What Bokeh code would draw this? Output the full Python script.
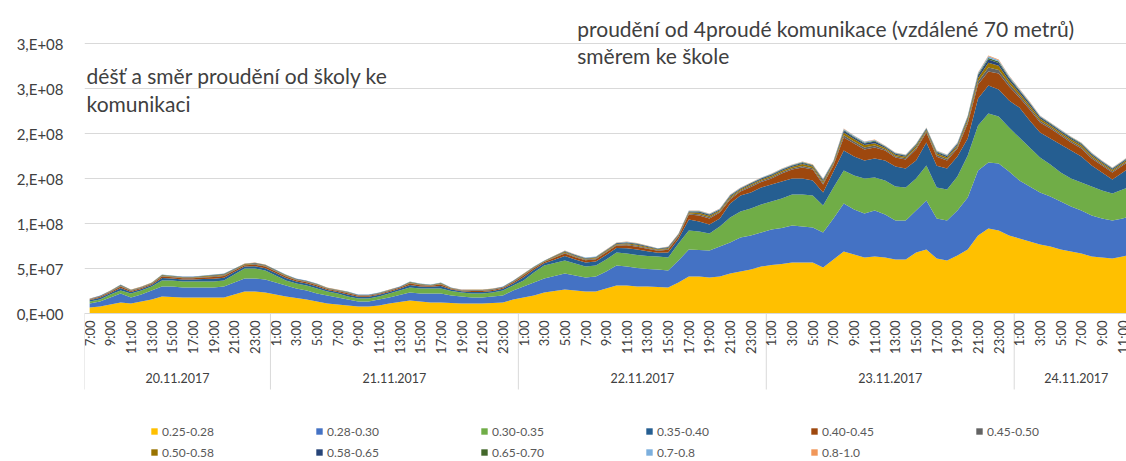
import math
from bokeh.plotting import figure
from bokeh.models import (ColumnDataSource, FixedTicker, Legend, LegendItem,
                          Range1d, Label, Span)
from bokeh.core.properties import value
from bokeh.embed import file_html
from bokeh.resources import INLINE

# ---------------- data ----------------
days = ["20.11.2017", "21.11.2017", "22.11.2017", "23.11.2017", "24.11.2017"]
day_sizes = [18, 24, 24, 24, 12]
hour_labels = ([f"{h}:00" for h in range(7, 24)] + ["0:00"]
               + ([f"{h}:00" for h in range(1, 24)] + ["0:00"]) * 3
               + [f"{h}:00" for h in range(1, 13)])

series_names = ["0.25-0.28", "0.28-0.30", "0.30-0.35", "0.35-0.40", "0.40-0.45",
                "0.45-0.50", "0.50-0.58", "0.58-0.65", "0.65-0.70", "0.7-0.8", "0.8-1.0"]
colors = ["#FFC000", "#4472C4", "#70AD47", "#255E91", "#9E480E",
          "#636363", "#997300", "#264478", "#43682B", "#7CAFDD", "#F1975A"]

y_ticks = [0, 5e7, 1e8, 1.5e8, 2e8, 2.5e8, 3e8]
y_tick_labels = ["0,E+00", "5,E+07", "1,E+08", "2,E+08", "2,E+08", "3,E+08", "3,E+08"]

# values in millions
s_025_028 = [6.7, 7.8, 10.0, 12.2, 11.1, 13.3, 15.6, 18.9, 18.3, 17.8, 17.8, 17.8, 17.8, 17.8, 21.1, 24.4, 24.4, 23.3,
             21.1, 18.9, 17.2, 15.6, 13.3, 11.1, 10.0, 8.9, 7.8, 7.8, 8.9, 11.1, 12.8, 14.4, 13.3, 12.2, 12.2, 11.7, 11.1, 11.1, 11.1, 11.7, 12.2, 15.6,
             17.8, 20.0, 23.3, 25.0, 26.7, 25.6, 24.4, 24.4, 27.8, 31.1, 31.1, 30.0, 30.0, 29.4, 28.9, 34.4, 41.1, 41.1, 40.0, 41.1, 44.4, 46.7, 48.9, 52.2,
             53.9, 55.0, 56.7, 56.7, 56.7, 51.1, 60.0, 68.9, 65.6, 62.2, 63.3, 62.2, 60.0, 60.0, 67.8, 71.1, 61.1, 58.9, 64.4, 71.1, 86.7, 94.4, 92.2, 86.7,
             83.3, 80.0, 76.7, 74.4, 71.1, 68.9, 66.7, 63.3, 62.2, 61.1, 63.3, 65.6]
s_028_030 = [4.4, 5.6, 7.8, 10.0, 6.7, 7.8, 10.0, 11.1, 11.7, 11.1, 11.1, 11.1, 11.1, 12.2, 13.3, 14.4, 14.4, 14.4,
             13.3, 12.2, 10.6, 10.0, 8.9, 8.9, 7.8, 6.7, 5.6, 5.6, 6.7, 6.7, 7.8, 8.9, 8.9, 10.0, 10.0, 8.3, 7.8, 6.7, 6.7, 7.2, 7.8, 10.0,
             12.2, 14.4, 15.6, 16.7, 17.8, 16.7, 15.6, 16.7, 18.9, 22.2, 21.1, 20.6, 19.4, 19.4, 18.9, 24.4, 30.0, 29.4, 30.0, 33.3, 34.4, 37.8, 37.8, 37.8,
             39.4, 40.0, 41.1, 40.0, 38.9, 38.9, 45.6, 53.3, 50.0, 48.9, 51.1, 47.8, 43.3, 43.3, 46.7, 54.4, 44.4, 44.4, 50.0, 57.8, 72.2, 73.3, 74.4, 71.1,
             64.4, 61.1, 57.8, 55.6, 53.3, 50.0, 47.8, 45.6, 43.3, 42.2, 42.2, 43.3]
s_030_035 = [2.2, 2.2, 3.3, 3.3, 4.4, 4.4, 4.4, 6.7, 6.7, 6.7, 6.7, 6.7, 6.7, 6.7, 8.9, 11.1, 11.1, 10.0,
             7.8, 5.6, 5.6, 5.6, 5.6, 4.4, 4.4, 3.3, 3.3, 3.3, 3.3, 4.4, 5.0, 5.6, 5.6, 5.6, 5.6, 5.0, 4.4, 4.4, 4.4, 4.4, 5.6, 5.6,
             6.7, 11.1, 14.4, 14.4, 14.4, 13.3, 12.2, 12.2, 13.3, 14.4, 14.4, 14.4, 14.4, 14.4, 14.4, 18.9, 21.1, 20.6, 18.9, 22.2, 27.8, 28.9, 30.0, 31.1,
             31.1, 32.8, 34.4, 35.6, 35.6, 30.0, 34.4, 36.7, 37.8, 38.9, 36.7, 37.8, 37.8, 36.7, 35.6, 38.9, 34.4, 34.4, 37.8, 46.7, 50.0, 54.4, 52.2, 48.9,
             47.8, 43.3, 38.9, 35.6, 32.2, 31.1, 31.1, 32.2, 31.1, 30.0, 32.2, 33.3]
s_035_040 = [1.3, 1.8, 1.8, 2.7, 1.8, 1.8, 1.8, 2.7, 2.2, 2.2, 2.2, 2.7, 3.1, 3.1, 2.7, 2.2, 2.7, 2.7,
             2.7, 2.7, 2.2, 2.2, 2.2, 1.8, 1.8, 2.2, 1.8, 1.8, 1.8, 1.8, 1.8, 2.7, 2.2, 1.8, 2.7, 1.6, 1.3, 1.8, 1.8, 1.8, 1.8, 2.2,
             3.6, 3.0, 2.5, 3.7, 5.0, 4.5, 4.5, 4.5, 5.0, 5.0, 6.0, 6.0, 5.3, 4.2, 5.5, 5.0, 12.2, 11.1, 10.0, 8.9, 15.6, 17.8, 17.8, 18.9,
             18.9, 18.9, 17.8, 17.8, 16.7, 14.4, 17.8, 22.2, 21.1, 20.0, 21.1, 22.2, 22.2, 21.1, 20.0, 25.6, 24.4, 23.3, 22.2, 18.9, 30.0, 31.1, 30.0, 30.0,
             33.3, 30.0, 27.8, 28.9, 31.1, 31.1, 28.9, 23.3, 20.0, 15.6, 18.9, 22.2]
s_040_045 = [0.8, 1.1, 1.1, 1.7, 1.1, 1.1, 1.1, 1.7, 1.4, 1.4, 1.4, 1.7, 1.9, 1.9, 1.7, 1.4, 1.7, 1.7,
             1.7, 1.7, 1.4, 1.4, 1.4, 1.1, 1.1, 1.4, 1.1, 1.1, 1.1, 1.1, 1.1, 1.7, 1.4, 1.1, 1.7, 1.0, 0.8, 1.1, 1.1, 1.1, 1.1, 1.4,
             2.0, 1.7, 1.4, 2.1, 2.8, 2.5, 2.5, 2.5, 2.8, 2.8, 3.3, 3.3, 2.9, 2.4, 3.1, 2.8, 5.6, 6.7, 6.7, 6.7, 4.4, 4.4, 6.1, 6.1,
             6.7, 8.9, 10.0, 12.2, 12.2, 8.9, 6.7, 14.4, 14.4, 12.2, 12.2, 11.1, 10.0, 10.0, 12.2, 11.1, 10.0, 8.9, 8.9, 16.7, 15.6, 15.6, 17.8, 15.6,
             11.1, 12.2, 11.1, 11.1, 10.0, 8.9, 8.9, 7.8, 7.8, 7.8, 7.8, 7.8]
s_045_050 = [0.3, 0.4, 0.4, 0.6, 0.4, 0.4, 0.4, 0.6, 0.5, 0.5, 0.5, 0.6, 0.7, 0.7, 0.6, 0.5, 0.6, 0.6,
             0.6, 0.6, 0.5, 0.5, 0.5, 0.4, 0.4, 0.5, 0.4, 0.4, 0.4, 0.4, 0.4, 0.6, 0.5, 0.4, 0.6, 0.3, 0.3, 0.4, 0.4, 0.4, 0.4, 0.5,
             0.5, 0.5, 0.4, 0.6, 0.8, 0.8, 0.8, 0.8, 0.8, 0.8, 1.0, 1.0, 0.9, 0.7, 0.9, 0.8, 1.1, 1.4, 1.4, 1.1, 1.4, 1.1, 1.3, 1.3,
             1.4, 1.4, 1.4, 1.7, 1.4, 1.7, 1.4, 2.5, 2.2, 2.2, 2.2, 1.4, 1.4, 1.4, 1.7, 1.4, 1.7, 1.7, 1.7, 2.2, 3.3, 4.5, 3.9, 3.0,
             2.5, 2.2, 2.0, 1.7, 1.7, 1.7, 1.7, 1.7, 1.4, 1.4, 1.4, 1.7]
s_050_058 = [0.4, 0.4, 0.4, 0.7, 0.4, 0.4, 0.4, 0.7, 0.6, 0.6, 0.6, 0.7, 0.8, 0.8, 0.7, 0.6, 0.7, 0.7,
             0.7, 0.7, 0.6, 0.6, 0.6, 0.4, 0.4, 0.6, 0.4, 0.4, 0.4, 0.4, 0.4, 0.7, 0.6, 0.4, 0.7, 0.4, 0.4, 0.4, 0.4, 0.4, 0.4, 0.6,
             0.7, 0.6, 0.5, 0.8, 1.0, 0.9, 0.9, 0.9, 1.0, 1.0, 1.2, 1.2, 1.0, 0.8, 1.1, 1.0, 1.3, 1.7, 1.7, 1.3, 1.7, 1.3, 1.5, 1.5,
             1.7, 1.7, 1.7, 2.0, 1.7, 2.0, 1.7, 3.0, 2.7, 2.7, 2.7, 1.7, 1.7, 1.7, 2.0, 1.7, 2.0, 2.0, 2.0, 2.7, 4.0, 5.3, 4.7, 3.7,
             3.0, 2.7, 2.3, 2.0, 2.0, 2.0, 2.0, 2.0, 1.7, 1.7, 1.7, 2.0]
s_058_065 = [0.2, 0.3, 0.3, 0.5, 0.3, 0.3, 0.3, 0.5, 0.4, 0.4, 0.4, 0.5, 0.6, 0.6, 0.5, 0.4, 0.5, 0.5,
             0.5, 0.5, 0.4, 0.4, 0.4, 0.3, 0.3, 0.4, 0.3, 0.3, 0.3, 0.3, 0.3, 0.5, 0.4, 0.3, 0.5, 0.3, 0.2, 0.3, 0.3, 0.3, 0.3, 0.4,
             0.4, 0.4, 0.3, 0.5, 0.7, 0.6, 0.6, 0.6, 0.7, 0.7, 0.8, 0.8, 0.7, 0.6, 0.7, 0.7, 0.9, 1.1, 1.1, 0.9, 1.1, 0.9, 1.0, 1.0,
             1.1, 1.1, 1.1, 1.3, 1.1, 1.3, 1.1, 2.0, 1.8, 1.8, 1.8, 1.1, 1.1, 1.1, 1.3, 1.1, 1.3, 1.3, 1.3, 1.8, 2.7, 3.6, 3.1, 2.4,
             2.0, 1.8, 1.6, 1.3, 1.3, 1.3, 1.3, 1.3, 1.1, 1.1, 1.1, 1.3]
s_065_070 = [0.1, 0.2, 0.2, 0.2, 0.2, 0.2, 0.2, 0.2, 0.2, 0.2, 0.2, 0.2, 0.3, 0.3, 0.2, 0.2, 0.2, 0.2,
             0.2, 0.2, 0.2, 0.2, 0.2, 0.2, 0.2, 0.2, 0.2, 0.2, 0.2, 0.2, 0.2, 0.2, 0.2, 0.2, 0.2, 0.1, 0.1, 0.2, 0.2, 0.2, 0.2, 0.2,
             0.2, 0.2, 0.2, 0.3, 0.3, 0.3, 0.3, 0.3, 0.3, 0.3, 0.4, 0.4, 0.4, 0.3, 0.4, 0.3, 0.4, 0.6, 0.6, 0.4, 0.6, 0.4, 0.5, 0.5,
             0.6, 0.6, 0.6, 0.7, 0.6, 0.7, 0.6, 1.0, 0.9, 0.9, 0.9, 0.6, 0.6, 0.6, 0.7, 0.6, 0.7, 0.7, 0.7, 0.9, 1.3, 1.8, 1.6, 1.2,
             1.0, 0.9, 0.8, 0.7, 0.7, 0.7, 0.7, 0.7, 0.6, 0.6, 0.6, 0.7]
s_07_08 = [0.1, 0.1, 0.1, 0.2, 0.1, 0.1, 0.1, 0.2, 0.2, 0.2, 0.2, 0.2, 0.3, 0.3, 0.2, 0.2, 0.2, 0.2,
           0.2, 0.2, 0.2, 0.2, 0.2, 0.1, 0.1, 0.2, 0.1, 0.1, 0.1, 0.1, 0.1, 0.2, 0.2, 0.1, 0.2, 0.1, 0.1, 0.1, 0.1, 0.1, 0.1, 0.2,
           0.2, 0.2, 0.2, 0.2, 0.3, 0.3, 0.3, 0.3, 0.3, 0.3, 0.4, 0.4, 0.3, 0.3, 0.4, 0.3, 0.5, 0.5, 0.5, 0.5, 0.5, 0.5, 0.5, 0.5,
           0.5, 0.5, 0.5, 0.7, 0.5, 0.7, 0.5, 1.0, 0.9, 0.9, 0.9, 0.5, 0.5, 0.5, 0.7, 0.5, 0.7, 0.7, 0.7, 0.9, 1.3, 1.8, 1.5, 1.2,
           1.0, 0.9, 0.8, 0.7, 0.7, 0.7, 0.7, 0.7, 0.5, 0.5, 0.5, 0.7]
s_08_10 = [0.1, 0.1, 0.1, 0.1, 0.1, 0.1, 0.1, 0.1, 0.1, 0.1, 0.1, 0.1, 0.1, 0.1, 0.1, 0.1, 0.1, 0.1,
           0.1, 0.1, 0.1, 0.1, 0.1, 0.1, 0.1, 0.1, 0.1, 0.1, 0.1, 0.1, 0.1, 0.1, 0.1, 0.1, 0.1, 0.1, 0.1, 0.1, 0.1, 0.1, 0.1, 0.1,
           0.1, 0.1, 0.1, 0.1, 0.2, 0.2, 0.2, 0.2, 0.2, 0.2, 0.2, 0.2, 0.2, 0.1, 0.2, 0.2, 0.2, 0.3, 0.3, 0.2, 0.3, 0.2, 0.2, 0.2,
           0.3, 0.3, 0.3, 0.3, 0.3, 0.3, 0.3, 0.5, 0.4, 0.4, 0.4, 0.3, 0.3, 0.3, 0.3, 0.3, 0.3, 0.3, 0.3, 0.4, 0.7, 0.8, 0.8, 0.7,
           0.5, 0.4, 0.3, 0.3, 0.3, 0.3, 0.3, 0.3, 0.3, 0.3, 0.3, 0.3]

series_values = [s_025_028, s_028_030, s_030_035, s_035_040, s_040_045, s_045_050,
                 s_050_058, s_058_065, s_065_070, s_07_08, s_08_10]

note_left = ["déšť a směr proudění od školy ke", "komunikaci"]
note_right = ["proudění od 4proudé komunikace (vzdálené 70 metrů)", "směrem ke škole"]

# ---------------- build ----------------
n = len(hour_labels)
x = list(range(n))
keys = [f"s{i}" for i in range(len(series_names))]
data = {"x": x}
for k, vals in zip(keys, series_values):
    data[k] = [v * 1e6 for v in vals]
source = ColumnDataSource(data)

FONT = "Lato"
TXT = "#595959"
DARK = "#404040"
GRID = "#D9D9D9"

# pixel row (from the top of the picture) -> value on the y scale
def y_of_px(py):
    return (313 - py) / 270 * 3e8

p = figure(width=1126, height=461, frame_width=1042, frame_height=449,
           min_border_left=84, min_border_right=0, min_border_top=12, min_border_bottom=0,
           x_range=Range1d(-0.5, 100.37), y_range=Range1d(y_of_px(461), y_of_px(12)),
           output_backend="svg", toolbar_location=None,
           background_fill_color="white", border_fill_color="white")
p.outline_line_color = None
p.xaxis.visible = False

renderers = p.varea_stack(stackers=keys, x="x", color=colors, source=source)

# grid
y_ticker = FixedTicker(ticks=y_ticks)
p.ygrid.ticker = y_ticker
p.ygrid.grid_line_color = GRID
p.ygrid.grid_line_width = 1
p.xgrid.visible = False

# y axis
yax = p.yaxis[0]
yax.ticker = y_ticker
yax.major_label_overrides = {t: l for t, l in zip(y_ticks, y_tick_labels)}
yax.axis_line_color = None
yax.major_tick_line_color = None
yax.minor_tick_line_color = None
yax.major_tick_out = 0
yax.major_label_standoff = 21
yax.major_label_text_font = FONT
yax.major_label_text_font_size = "15px"
yax.major_label_text_color = DARK

# category (time) axis drawn in the frame, below the zero line
starts = [sum(day_sizes[:i]) for i in range(len(day_sizes))]
boundaries = [s - 0.5 for s in starts]
centers = [s + (sz - 1) / 2 for s, sz in zip(starts, day_sizes)]

p.add_layout(Span(location=0, dimension="width", line_color=GRID, line_width=1))
p.segment(x0=boundaries, y0=[0] * len(boundaries), x1=boundaries,
          y1=[y_of_px(389)] * len(boundaries), line_color=GRID, line_width=1)

hour_ticks = list(range(0, n, 2))
p.text(x=hour_ticks, y=[y_of_px(320)] * len(hour_ticks),
       text=[hour_labels[i] for i in hour_ticks], angle=math.pi / 2,
       text_align="right", text_baseline="middle",
       text_font=value(FONT), text_font_size="13px", text_color=DARK)

p.text(x=centers, y=[y_of_px(377)] * len(centers), text=days,
       text_align="center", text_baseline="middle",
       text_font=value(FONT), text_font_size="12.5px", text_color=DARK)

# notes
for txt, py in zip(note_left, [75, 103]):
    p.add_layout(Label(x=-0.3, y=y_of_px(py), text=txt, text_baseline="middle",
                       text_font=FONT, text_font_size="21px", text_color=DARK))
for txt, py in zip(note_right, [28, 55]):
    p.add_layout(Label(x=47.2, y=y_of_px(py), text=txt, text_baseline="middle",
                       text_font=FONT, text_font_size="21px", text_color=DARK))

# legend (inside the frame, in its lower strip)
items = [LegendItem(label=nm, renderers=[r]) for nm, r in zip(series_names, renderers)]
legend = Legend(items=items, location=(66, 0), orientation="horizontal", ncols=6,
                glyph_width=8, glyph_height=8, label_standoff=4, label_width=150,
                label_height=18, spacing=3, padding=0, margin=0,
                border_line_color=None, background_fill_alpha=0,
                label_text_font=FONT, label_text_font_size="12px", label_text_color=TXT)
p.add_layout(legend, "center")

open("out.html", "w").write(file_html(p, INLINE))
